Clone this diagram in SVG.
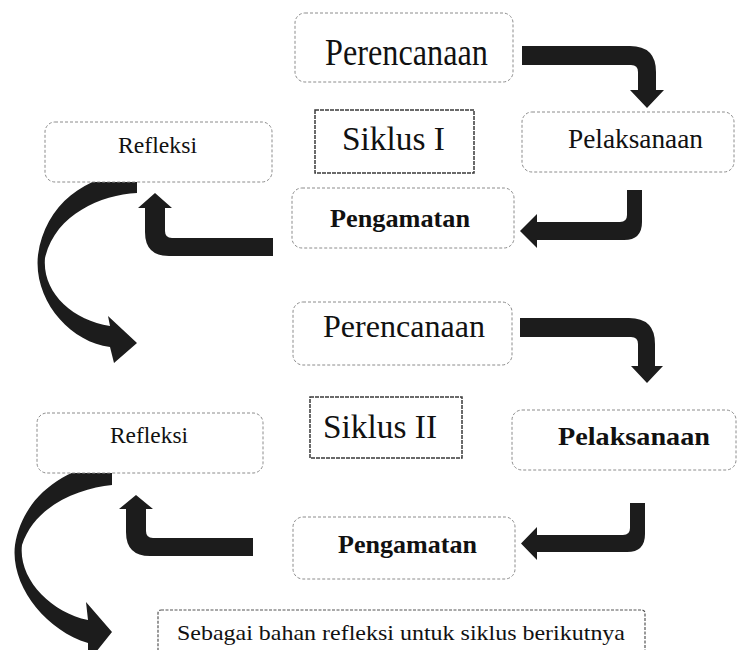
<svg xmlns="http://www.w3.org/2000/svg" width="738" height="650" viewBox="0 0 738 650">
<style>
.rbox{fill:#fff;stroke:#8c8c8c;stroke-width:1;stroke-dasharray:3 2}
.sbox{fill:#fff;stroke:#3a3a3a;stroke-width:1.5;stroke-dasharray:4 1}
.nbox{fill:#fff;stroke:#555;stroke-width:1.2;stroke-dasharray:3 1.5}
.t{font-family:"Liberation Serif","Times New Roman",serif;fill:#111}
.b{font-weight:bold}
.arr{fill:#1c1c1c}
</style>
<rect width="738" height="650" fill="#fff"/>
<g id="connectors">
<path class="arr" d="M522,46 H630 Q656,46 656,72 V90 H664 L647,108 L630,90 H638 V72 Q638,65 631,65 H522 Z"/>
<path class="arr" d="M627,190 H642 V222 Q642,240 624,240 H537 V248 L520,231 L537,214 V222 H620 Q627,222 627,215 Z"/>
<path class="arr" d="M273,238 H172 Q165,238 165,231 V208 H172 L155,193 L138,208 H145 V232 Q145,256 169,256 H273 Z"/>
<path class="arr" d="M137,172 C85,174 45,205 38,255 C33,300 70,342 110,347 L114,363 L137,343 L108,316 L110,326 C72,320 42,292 45,258 C55,215 100,195 137,193 Z"/>
<path class="arr" d="M520,318 H629 Q655,318 655,344 V366 H663 L647,383 L631,366 H638 V344 Q638,337 631,337 H520 Z"/>
<path class="arr" d="M630,503 H645 V534 Q645,552 627,552 H537 V560 L521,543.5 L537,527 V535 H623 Q630,535 630,528 Z"/>
<path class="arr" d="M253,538 H153 Q146,538 146,531 V509 H153 L136,495 L119,509 H126 V532 Q126,556 150,556 H253 Z"/>
<path class="arr" d="M112,462 C60,468 22,500 15,545 C10,585 45,630 88,643 L88,662 L112,632 L86,602 L88,620 C50,612 18,578 22,545 C35,505 80,488 112,485 Z"/>
</g>
<g id="perencanaan1">
<rect class="rbox" x="295" y="13" width="218" height="69" rx="10"/>
<text class="t" x="325" y="65" font-size="38" textLength="163" lengthAdjust="spacingAndGlyphs">Perencanaan</text>
</g>
<g id="siklus1">
<rect class="sbox" x="315" y="110" width="159" height="63"/>
<text class="t" x="342" y="150" font-size="33" textLength="103" lengthAdjust="spacingAndGlyphs">Siklus I</text>
</g>
<g id="pelaksanaan1">
<rect class="rbox" x="522" y="112" width="212" height="60" rx="10"/>
<text class="t" x="568" y="148" font-size="27" textLength="135" lengthAdjust="spacingAndGlyphs">Pelaksanaan</text>
</g>
<g id="refleksi1">
<rect class="rbox" x="45" y="122" width="227" height="60" rx="10"/>
<text class="t" x="118" y="153" font-size="23" textLength="79" lengthAdjust="spacingAndGlyphs">Refleksi</text>
</g>
<g id="pengamatan1">
<rect class="rbox" x="292" y="188" width="222" height="60" rx="10"/>
<text class="t b" x="330" y="227" font-size="26" textLength="140" lengthAdjust="spacingAndGlyphs">Pengamatan</text>
</g>
<g id="perencanaan2">
<rect class="rbox" x="293" y="302" width="219" height="63" rx="10"/>
<text class="t" x="323" y="337" font-size="32" textLength="162" lengthAdjust="spacingAndGlyphs">Perencanaan</text>
</g>
<g id="siklus2">
<rect class="sbox" x="310" y="397" width="152" height="61"/>
<text class="t" x="323" y="438" font-size="34" textLength="114" lengthAdjust="spacingAndGlyphs">Siklus II</text>
</g>
<g id="pelaksanaan2">
<rect class="rbox" x="512" y="410" width="224" height="60" rx="10"/>
<text class="t b" x="558" y="445" font-size="26" textLength="152" lengthAdjust="spacingAndGlyphs">Pelaksanaan</text>
</g>
<g id="refleksi2">
<rect class="rbox" x="37" y="413" width="226" height="60" rx="10"/>
<text class="t" x="110" y="443" font-size="23" textLength="78" lengthAdjust="spacingAndGlyphs">Refleksi</text>
</g>
<g id="pengamatan2">
<rect class="rbox" x="293" y="517" width="222" height="62" rx="10"/>
<text class="t b" x="338" y="553" font-size="26" textLength="139" lengthAdjust="spacingAndGlyphs">Pengamatan</text>
</g>
<g id="catatan">
<rect class="nbox" x="158" y="610" width="487" height="50" rx="3"/>
<text class="t" x="177" y="640" font-size="21" textLength="448" lengthAdjust="spacingAndGlyphs">Sebagai bahan refleksi untuk siklus berikutnya</text>
</g>
</svg>
